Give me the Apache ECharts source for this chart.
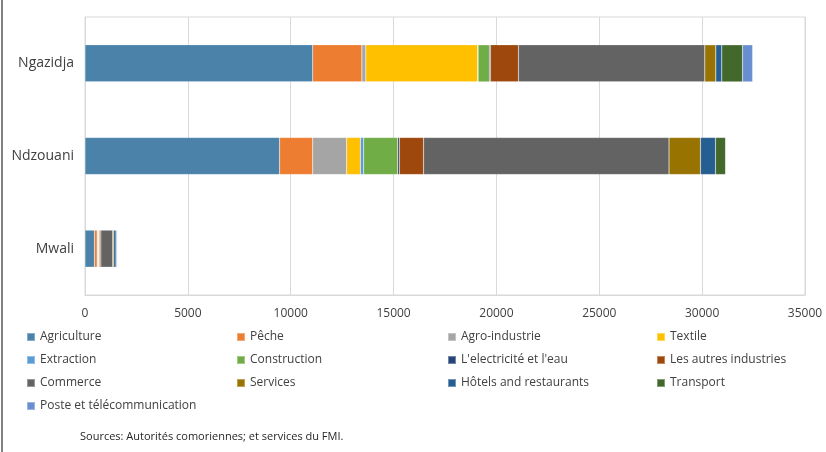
<!DOCTYPE html>
<html>
<head>
<meta charset="utf-8">
<script src="https://cdn.jsdelivr.net/npm/echarts@6/dist/echarts.min.js"></script>
<style>
  html, body { margin: 0; padding: 0; background: #fff; }
  #chart { width: 826px; height: 452px; }
</style>
</head>
<body>
<div id="chart"></div>
<script>
// Islands (top to bottom)
const islands = ['Ngazidja', 'Ndzouani', 'Mwali'];

// Sectors, in stacking order
const sectors = [
  'Agriculture', 'Pêche', 'Agro-industrie', 'Textile',
  'Extraction', 'Construction', "L'electricité et l'eau", 'Les autres industries',
  'Commerce', 'Services', 'Hôtels and restaurants', 'Transport',
  'Poste et télécommunication'
];

// Values per island: [Ngazidja, Ndzouani, Mwali]
const agriculture   = [11070, 9460, 460];
const peche         = [2390, 1610, 130];
const agroIndustrie = [190, 1650, 40];
const textile       = [5440, 670, 20];
const extraction    = [20, 160, 10];
const construction  = [550, 1650, 30];
const electricite   = [50, 80, 10];
const autresInd     = [1360, 1180, 70];
const commerce      = [9060, 11930, 580];
const services      = [535, 1530, 50];
const hotels        = [290, 730, 110];
const transport     = [1010, 490, 10];
const poste         = [490, 0, 50];

const sectorValues = [
  agriculture, peche, agroIndustrie, textile,
  extraction, construction, electricite, autresInd,
  commerce, services, hotels, transport, poste
];

const xTicks = { min: 0, max: 35000, step: 5000 };

const colors = [
  '#4a82aa', '#ed7d31', '#a5a5a5', '#ffc000',
  '#5b9bd5', '#70ad47', '#264478', '#9e480e',
  '#636363', '#997300', '#255e91', '#43682b',
  '#698ed0'
];

const font = '"Open Sans", "Noto Sans", sans-serif';
const textColor = '#404040';

// Legend laid out as four columns, filled row by row
const legendCols = [0, 1, 2, 3].map(c => sectors.filter((_, i) => i % 4 === c));
const legendLeft = [26, 236, 447, 656];

const chart = echarts.init(document.getElementById('chart'));
chart.setOption({
  animation: false,
  color: colors,
  textStyle: { fontFamily: font },
  grid: {
    left: 85, right: 21, top: 17, bottom: 157,
    show: true, borderColor: '#d9d9d9', borderWidth: 1
  },
  xAxis: {
    type: 'value',
    min: xTicks.min, max: xTicks.max, interval: xTicks.step,
    axisLine: { show: true, lineStyle: { color: '#d9d9d9' } },
    axisTick: { show: false },
    splitLine: { lineStyle: { color: '#d9d9d9' } },
    axisLabel: {
      color: textColor, fontSize: 12, margin: 13, fontFamily: font,
      formatter: v => String(v)
    }
  },
  yAxis: {
    type: 'category',
    data: islands,
    inverse: true,
    axisLine: { show: true, lineStyle: { color: '#d9d9d9' } },
    axisTick: { show: false },
    axisLabel: { color: textColor, fontSize: 14, margin: 11, fontFamily: font }
  },
  legend: legendCols.map((names, c) => ({
    data: names,
    orient: 'vertical',
    left: legendLeft[c],
    top: 331,
    padding: 0,
    itemWidth: 8,
    itemHeight: 8,
    itemGap: 11,
    icon: 'rect',
    selectedMode: false,
    textStyle: { color: textColor, fontSize: 12, fontFamily: font }
  })),
  graphic: [
    {
      type: 'line',
      shape: { x1: 2, y1: 0, x2: 2, y2: 452 },
      style: { stroke: '#595959', lineWidth: 1.5 }
    },
    {
      type: 'text',
      left: 80, top: 431,
      style: {
        text: 'Sources: Autorités comoriennes; et services du FMI.',
        fill: '#262626', fontSize: 11, fontFamily: font
      }
    }
  ],
  series: sectors.map((name, i) => ({
    name: name,
    type: 'bar',
    stack: 'total',
    barWidth: '40%',
    data: sectorValues[i],
    itemStyle: { borderColor: 'rgba(255,255,255,0.35)', borderWidth: 0.5 }
  }))
});
</script>
</body>
</html>
